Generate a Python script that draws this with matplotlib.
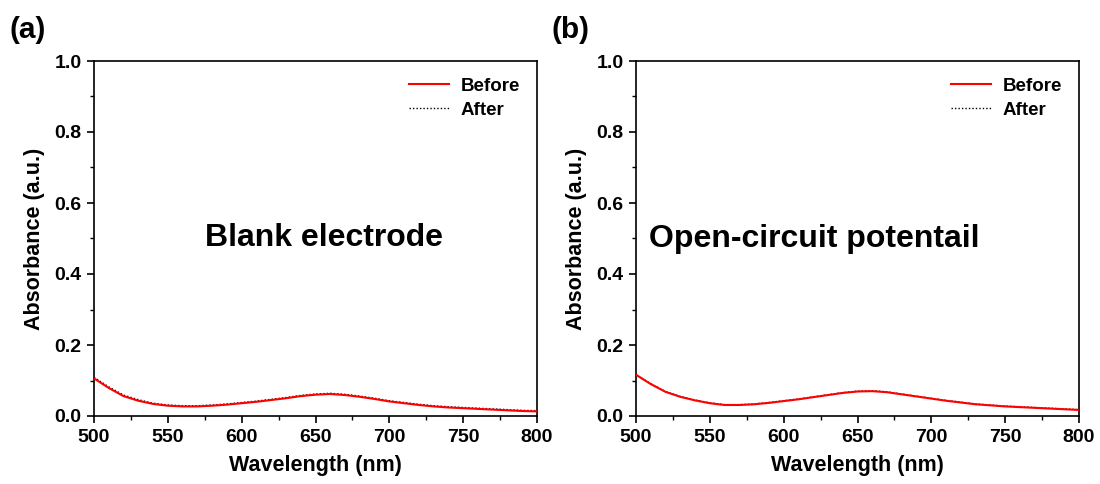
import numpy as np
import matplotlib.pyplot as plt

plt.rcParams['font.family'] = 'Liberation Sans'
plt.rcParams['font.weight'] = 'bold'

wl = np.arange(500, 801, 10)

# blank electrode
a_before = [0.106, 0.079, 0.056, 0.043, 0.034, 0.029, 0.027, 0.027, 0.029, 0.032,
            0.036, 0.040, 0.045, 0.050, 0.056, 0.060, 0.062, 0.059, 0.054, 0.048,
            0.041, 0.036, 0.031, 0.027, 0.024, 0.022, 0.020, 0.018, 0.016, 0.014, 0.013]
a_after = [0.109, 0.082, 0.059, 0.046, 0.036, 0.031, 0.029, 0.029, 0.031, 0.034,
           0.038, 0.042, 0.047, 0.052, 0.058, 0.062, 0.064, 0.061, 0.056, 0.050,
           0.043, 0.038, 0.033, 0.029, 0.026, 0.024, 0.022, 0.020, 0.018, 0.016, 0.015]

# open-circuit potential
b_before = [0.116, 0.090, 0.068, 0.054, 0.044, 0.036, 0.031, 0.031, 0.033, 0.037,
            0.042, 0.047, 0.053, 0.059, 0.065, 0.069, 0.070, 0.067, 0.061, 0.055,
            0.049, 0.043, 0.038, 0.033, 0.030, 0.027, 0.025, 0.023, 0.021, 0.019, 0.017]
b_after = [0.117, 0.091, 0.069, 0.055, 0.045, 0.037, 0.032, 0.032, 0.034, 0.038,
           0.043, 0.048, 0.054, 0.060, 0.066, 0.070, 0.071, 0.068, 0.062, 0.056,
           0.050, 0.044, 0.039, 0.034, 0.031, 0.028, 0.026, 0.024, 0.022, 0.020, 0.018]

panels = [('(a)', 'Blank electrode', a_before, a_after, 656),
          ('(b)', 'Open-circuit potentail', b_before, b_after, 621)]

fig = plt.figure(figsize=(11, 4.84), dpi=100)
lefts = [94 / 1100, 636 / 1100]
w = 443 / 1100
h = 355 / 484
bottom = (484 - 416) / 484

for i, (tag, name, before, after, tx) in enumerate(panels):
    ax = fig.add_axes([lefts[i], bottom, w, h])
    ax.plot(wl, before, color='red', lw=1.5, label='Before', zorder=3)
    ax.plot(wl, after, color='black', lw=1.0, ls=(0, (1, 1.5)), label='After', zorder=2)
    ax.set_xlim(500, 800)
    ax.set_ylim(0, 1.0)
    ax.set_xticks(np.arange(500, 801, 50))
    ax.set_xticks(np.arange(525, 800, 50), minor=True)
    ax.set_yticks(np.arange(0, 1.01, 0.2))
    ax.set_yticks(np.arange(0.1, 1.0, 0.2), minor=True)
    ax.yaxis.set_major_formatter(plt.FormatStrFormatter('%.1f'))
    ax.tick_params(direction='out', length=5, width=1.2, labelsize=14, pad=4)
    ax.tick_params(which='minor', direction='out', length=3, width=1.0)
    for s in ax.spines.values():
        s.set_linewidth(1.2)
    ax.set_xlabel('Wavelength (nm)', fontsize=15.5, fontweight='bold', labelpad=7)
    ax.set_ylabel('Absorbance (a.u.)', fontsize=15.5, fontweight='bold', labelpad=7)
    ax.text(tx, 0.50, name, fontsize=23, fontweight='bold', ha='center', va='center')
    ax.legend(loc='upper right', frameon=False, fontsize=13.5, handlelength=2.1,
              handletextpad=0.65, labelspacing=0.35, borderaxespad=0.5)
    fig.text(lefts[i] - 84 / 1100, 1 - 30 / 484, tag, fontsize=21.5, fontweight='bold',
             ha='left', va='center')

fig.savefig('out.png', dpi=100)
